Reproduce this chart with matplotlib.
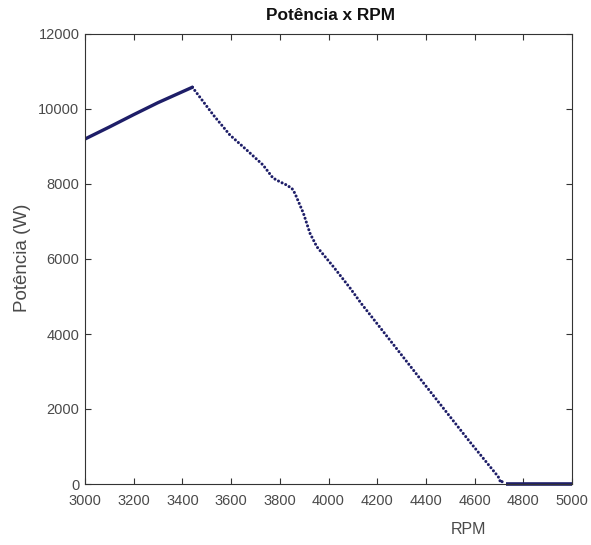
import matplotlib
matplotlib.use("Agg")
import matplotlib.pyplot as plt

plt.rcParams['font.family'] = ['Liberation Sans', 'DejaVu Sans']

# Rising segment (appears solid)
rpm_rise = [3000, 3100, 3200, 3300, 3441]
pot_rise = [9200, 9520, 9850, 10170, 10580]

# Descending segment (dotted points)
rpm_desc = [3441, 3527, 3595, 3664, 3731, 3772, 3800, 3828, 3850, 3862,
            3897, 3924, 3952, 4020, 4088, 4136, 4170, 4376, 4581, 4697, 4708, 4722]
pot_desc = [10580, 9840, 9307, 8907, 8507, 8160, 8060, 7973, 7880, 7752,
            7219, 6685, 6328, 5795, 5230, 4800, 4520, 2810, 1120, 195, 30, 120]

# Flat zero segment
rpm_zero = [4728, 5000]
pot_zero = [0, 0]

xticks = [3000, 3200, 3400, 3600, 3800, 4000, 4200, 4400, 4600, 4800, 5000]
yticks = [0, 2000, 4000, 6000, 8000, 10000, 12000]

color = '#1e1e68'
fig = plt.figure(figsize=(5.91, 5.45), dpi=100)
ax = fig.add_axes([85/591, 61/545, 487/591, 450/545])

ax.plot(rpm_rise, pot_rise, color=color, lw=2.4, solid_capstyle='round')
ax.plot(rpm_desc, pot_desc, color=color, lw=2.2,
        linestyle=(0, (0.01, 1.3)), dash_capstyle='round')
ax.plot(rpm_zero, pot_zero, color=color, lw=2.6, solid_capstyle='butt', clip_on=False)

ax.set_xlim(3000, 5000)
ax.set_ylim(0, 12000)
ax.set_xticks(xticks)
ax.set_yticks(yticks)
ax.set_xticklabels([str(v) for v in xticks])
ax.set_yticklabels([str(v) for v in yticks])

ax.tick_params(direction='in', length=4, width=0.8, colors='#333333',
               labelcolor='#4a4a4a', labelsize=10.5, top=True, right=True)
ax.tick_params(axis='x', pad=7)
ax.tick_params(axis='y', pad=4)
for s in ax.spines.values():
    s.set_color('#333333')
    s.set_linewidth(0.8)

fig.text(331/591, 1 - 15/545, 'Potência x RPM', ha='center', va='center',
         fontsize=12.4, fontweight='bold', color='#111111')
fig.text(23/591, 1 - 258/545, 'Potência (W)', ha='center', va='center',
         rotation=90, fontsize=13.5, color='#4a4a4a')
fig.text(468/591, 1 - 530/545, 'RPM', ha='center', va='center',
         fontsize=11.5, color='#4a4a4a')

fig.savefig('out.png', dpi=100)
